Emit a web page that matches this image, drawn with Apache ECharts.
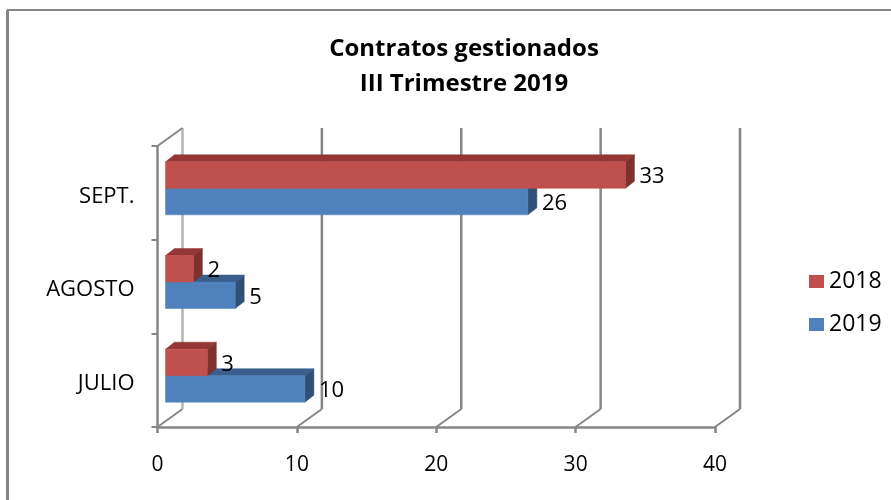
<!DOCTYPE html>
<html>
<head>
<meta charset="utf-8">
<style>
  html, body { margin: 0; padding: 0; background: #fff; }
  #chart { width: 891px; height: 500px; }
</style>
</head>
<body>
<div id="chart"></div>
<script src="https://cdn.jsdelivr.net/npm/echarts@6/dist/echarts.min.js"></script>
<script>
const categories = ['JULIO', 'AGOSTO', 'SEPT.']
const values2018 = [3, 2, 33]
const values2019 = [10, 5, 26]
const xTicks = [0, 10, 20, 30, 40]

const fontName = '"Open Sans", sans-serif'
const gridColor = '#868686'
const gridWidth = 2.5
// desplazamiento de la pared trasera respecto al plano frontal
const wallDx = 25
const wallDy = -18

function lineEl(x1, y1, x2, y2, color, width) {
  return {
    type: 'line',
    shape: { x1, y1, x2, y2 },
    style: { stroke: color || gridColor, lineWidth: width || gridWidth }
  }
}

function renderWall(params, api) {
  const sys = params.coordSys
  const x = api.coord([api.value(0), 0])[0]
  const bottom = sys.y + sys.height
  const top = sys.y
  const children = [
    lineEl(x, bottom, x + wallDx, bottom + wallDy, null, 2),
    lineEl(x + wallDx, bottom + wallDy, x + wallDx, top + wallDy, api.value(0) === 0 ? '#b5b5b5' : gridColor)
  ]
  if (api.value(0) === 0) children.push(lineEl(x, top, x + wallDx, top + wallDy, null, 2))
  return { type: 'group', children }
}

function poly(points, fill) {
  return { type: 'polygon', shape: { points }, style: { fill, stroke: fill, lineWidth: 0.5 } }
}

// barra con cara frontal, superior y lateral
function makeBar(colors, above) {
  return function (params, api) {
    const value = api.value(0)
    const p = api.coord([value, api.value(1)])
    const x0 = api.coord([0, api.value(1)])[0] + 8
    const x1 = p[0] + 8
    const h = api.size([0, 1])[1] * 0.283
    const mid = p[1] - 4.5
    const y0 = above ? mid - h : mid
    const y1 = y0 + h
    const dx = 9
    const dy = -7
    return {
      type: 'group',
      children: [
        poly([[x0, y0], [x1, y0], [x1 + dx, y0 + dy], [x0 + dx, y0 + dy]], colors[1]),
        poly([[x1, y0], [x1 + dx, y0 + dy], [x1 + dx, y1 + dy], [x1, y1]], colors[2]),
        poly([[x0, y0], [x1, y0], [x1, y1], [x0, y1]], colors[0]),
        {
          type: 'text',
          x: x1 + dx + 5,
          y: (y0 + y1) / 2 + 2,
          style: {
            text: String(value),
            fill: '#000',
            font: '22px ' + fontName,
            verticalAlign: 'middle',
            align: 'left'
          }
        }
      ]
    }
  }
}

const red = ['#C0504D', '#943634', '#7F312F']
const blue = ['#4F81BD', '#3A5F8C', '#2F5078']

const chart = echarts.init(document.getElementById('chart'), null, { renderer: 'canvas' })
chart.setOption({
  animation: false,
  backgroundColor: '#fff',
  title: {
    text: 'Contratos gestionados\nIII Trimestre 2019',
    left: 459,
    top: 27,
    textAlign: 'center',
    textStyle: {
      color: '#000',
      fontFamily: fontName,
      fontSize: 24,
      fontWeight: 'bold',
      lineHeight: 35
    }
  },
  graphic: [
    { type: 'line', shape: { x1: 7, y1: 10, x2: 891, y2: 10 }, style: { stroke: gridColor, lineWidth: 2 } },
    { type: 'line', shape: { x1: 7.5, y1: 10, x2: 7.5, y2: 500 }, style: { stroke: gridColor, lineWidth: 3 } }
  ],
  legend: {
    data: ['2018', '2019'],
    orient: 'vertical',
    left: 804,
    top: 265,
    itemWidth: 15,
    itemHeight: 13,
    itemGap: 20,
    icon: 'rect',
    textStyle: { color: '#000', fontFamily: fontName, fontSize: 23 }
  },
  grid: { left: 157.5, right: 176, top: 146, height: 281 },
  xAxis: {
    type: 'value',
    min: 0,
    max: 40,
    interval: 10,
    splitLine: { show: false },
    axisLine: { show: true, lineStyle: { color: gridColor, width: 2.5 } },
    axisTick: { show: true, length: 6, lineStyle: { color: gridColor, width: 2.5 } },
    axisLabel: { color: '#000', fontFamily: fontName, fontSize: 21, margin: 28 }
  },
  yAxis: {
    type: 'category',
    data: categories,
    axisLine: { show: true, lineStyle: { color: gridColor, width: 2.5 } },
    axisTick: { show: true, length: 6, lineStyle: { color: gridColor, width: 2 } },
    axisLabel: { color: '#000', fontFamily: fontName, fontSize: 22, margin: 23, verticalAlign: 'top', lineHeight: 7 }
  },
  series: [
    {
      name: 'pared',
      type: 'custom',
      silent: true,
      renderItem: renderWall,
      data: xTicks.map(v => [v]),
      encode: { x: 0 }
    },
    {
      name: '2019',
      type: 'custom',
      itemStyle: { color: blue[0] },
      renderItem: makeBar(blue, false),
      data: values2019.map((v, i) => [v, i]),
      encode: { x: 0, y: 1 }
    },
    {
      name: '2018',
      type: 'custom',
      itemStyle: { color: red[0] },
      renderItem: makeBar(red, true),
      data: values2018.map((v, i) => [v, i]),
      encode: { x: 0, y: 1 }
    }
  ]
})
</script>
</body>
</html>
